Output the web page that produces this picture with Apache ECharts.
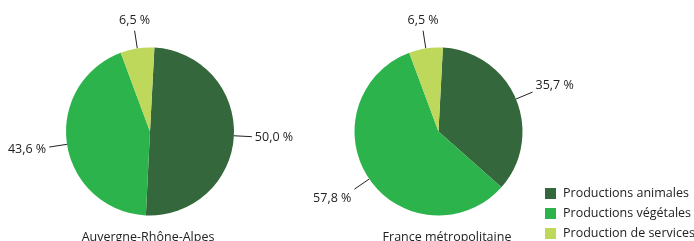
<!DOCTYPE html>
<html>
<head>
<meta charset="utf-8">
<script src="https://cdn.jsdelivr.net/npm/echarts@6/dist/echarts.min.js"></script>
<style>
	html, body { margin: 0; padding: 0; background: #fff; }
	#chart { width: 694px; height: 241px; }
</style>
</head>
<body>
<div id="chart"></div>
<script>
	// catégories et parts (%)
	const categories = ['Productions animales', 'Productions végétales', 'Production de services']
	const regions = ['Auvergne-Rhône-Alpes', 'France métropolitaine']
	const auraValues = [50.0, 43.6, 6.5]
	const franceValues = [35.7, 57.8, 6.5]
	const colors = ['#34673c', '#2db34b', '#bdd85a']

	const font = 'Open Sans'
	const fontSize = 12.5

	function buildData(values) {
		return categories.map((name, i) => ({ name: name, value: values[i] }))
	}

	// place le texte au bout du trait, dans le sens du rayon
	function placeLabel(params) {
		const pts = params.labelLinePoints
		if (!pts) return {}
		const p0 = pts[0]
		const end = pts[pts.length - 1]
		let dx = end[0] - p0[0]
		let dy = end[1] - p0[1]
		const len = Math.sqrt(dx * dx + dy * dy) || 1
		dx /= len
		dy /= len
		if (Math.abs(dx) < 0.35) {
			// au-dessus ou en dessous, centré
			return {
				x: end[0],
				y: end[1] + (dy < 0 ? -4 : 4),
				align: 'center',
				verticalAlign: dy < 0 ? 'bottom' : 'top',
				labelLinePoints: pts
			}
		}
		return {
			x: end[0] + (dx > 0 ? 3 : -3),
			y: end[1] + dy * 17,
			align: dx > 0 ? 'left' : 'right',
			verticalAlign: 'middle',
			labelLinePoints: pts
		}
	}

	function pieSeries(name, values, cx) {
		return {
			name: name,
			type: 'pie',
			center: [cx, 131.5],
			radius: [0, 84],
			startAngle: 87,
			clockwise: true,
			avoidLabelOverlap: false,
			emphasis: { disabled: true },
			label: {
				show: true,
				position: 'outside',
				fontFamily: font,
				fontSize: fontSize,
				color: '#222',
				formatter: p => p.value.toFixed(1).replace('.', ',') + ' %'
			},
			labelLine: {
				show: true,
				length: 18,
				length2: 0,
				lineStyle: { color: '#222', width: 1 }
			},
			labelLayout: placeLabel,
			itemStyle: { borderWidth: 0 },
			data: buildData(values)
		}
	}

	const titleStyle = { fontFamily: font, fontSize: fontSize, fontWeight: 'normal', color: '#222' }

	const chart = echarts.init(document.getElementById('chart'))
	chart.setOption({
		animation: false,
		color: colors,
		textStyle: { fontFamily: font },
		title: [{
			text: regions[0],
			left: 148,
			top: 231,
			textAlign: 'center',
			padding: 0,
			textStyle: titleStyle
		}, {
			text: regions[1],
			left: 447,
			top: 231,
			textAlign: 'center',
			padding: 0,
			textStyle: titleStyle
		}],
		legend: {
			orient: 'vertical',
			left: 545,
			top: 187,
			height: 80,
			itemWidth: 11,
			itemHeight: 11,
			itemGap: 7,
			icon: 'rect',
			padding: 0,
			selectedMode: false,
			textStyle: { fontFamily: font, fontSize: fontSize, color: '#222', padding: [0, 0, 0, 2] },
			data: categories
		},
		series: [
			pieSeries(regions[0], auraValues, 150),
			pieSeries(regions[1], franceValues, 438.5)
		]
	})
</script>
</body>
</html>
